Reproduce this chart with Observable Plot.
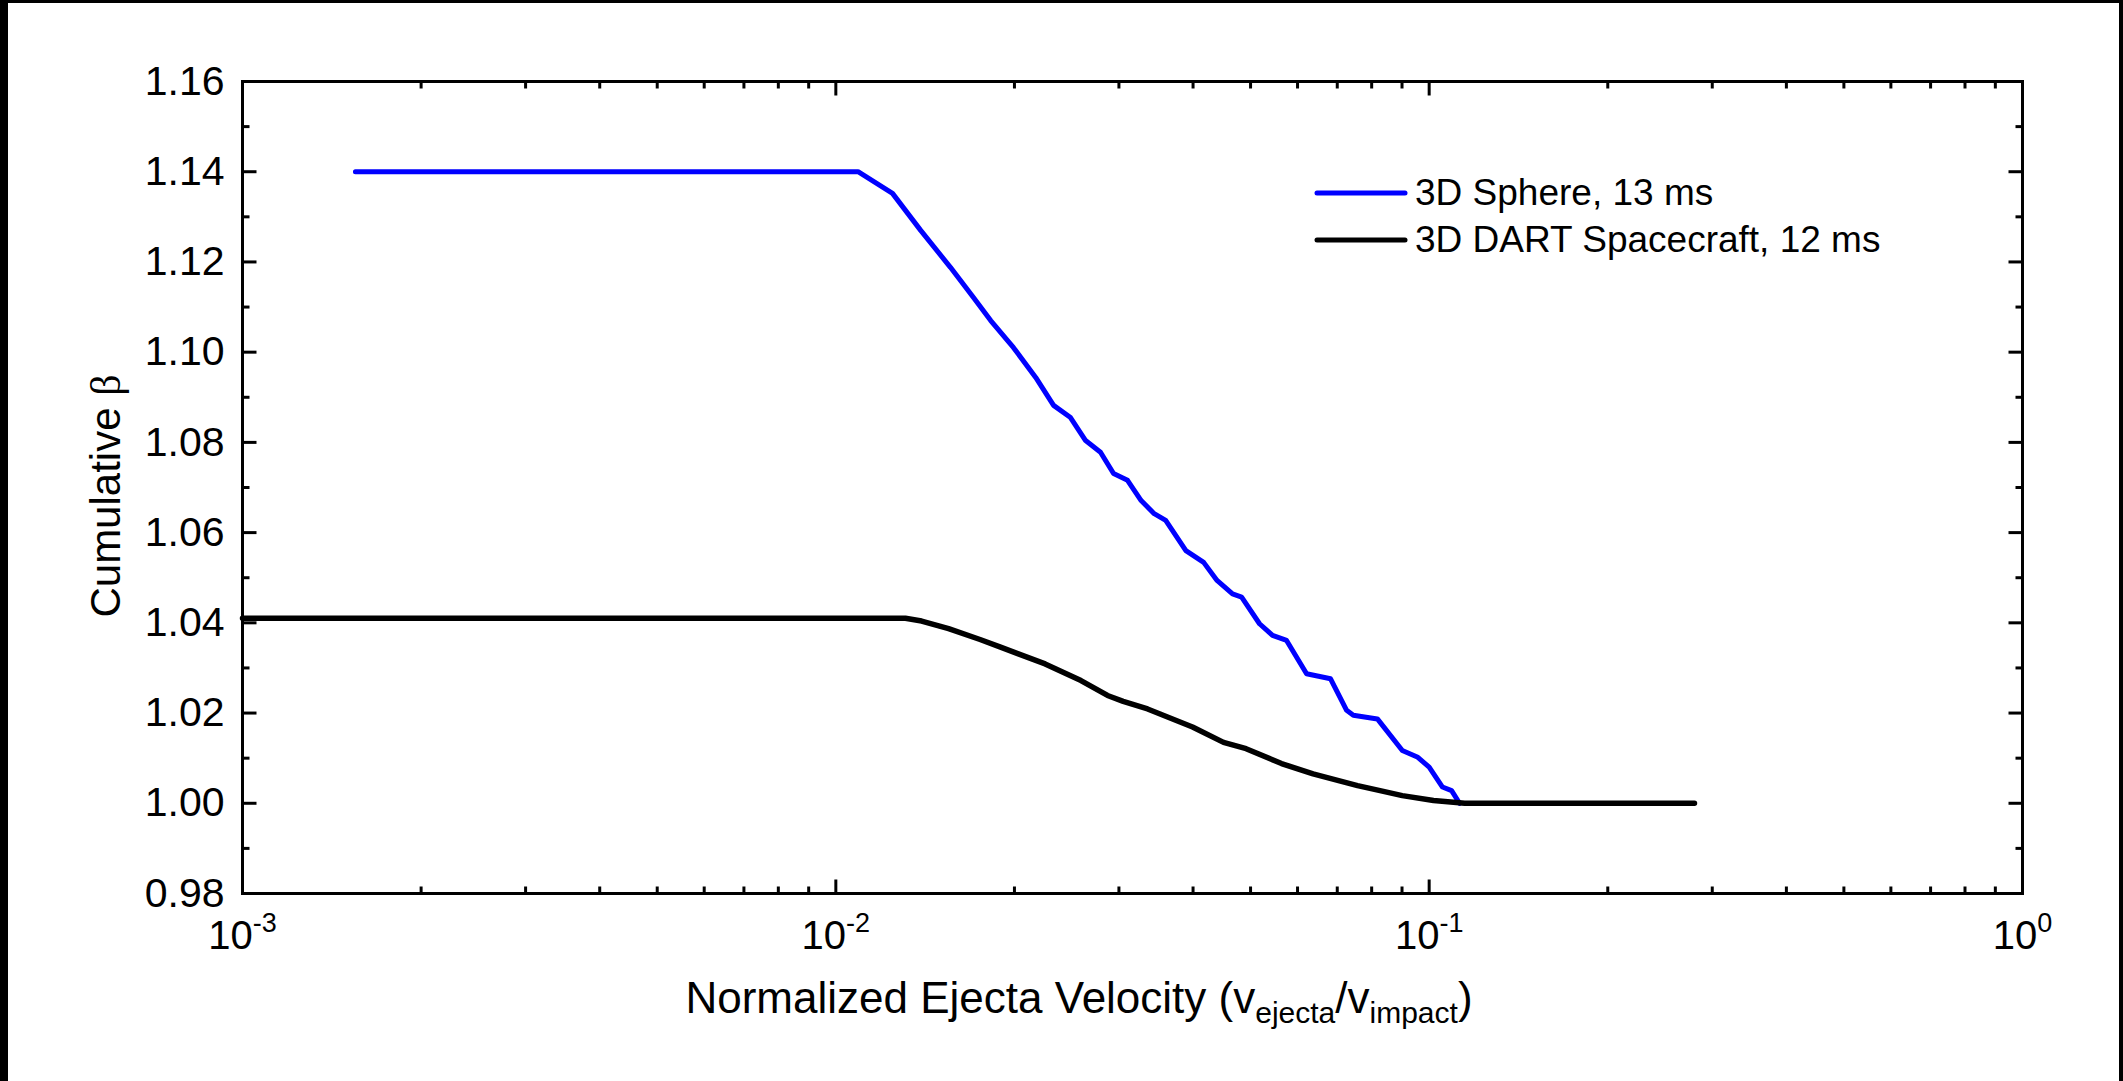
<!DOCTYPE html>
<html><head><meta charset="utf-8">
<script src="https://cdn.jsdelivr.net/npm/d3@7"></script>
<script src="https://cdn.jsdelivr.net/npm/@observablehq/plot@0.6"></script>
<style>
html,body{margin:0;padding:0;background:#000;width:2123px;height:1081px;overflow:hidden}
#chart{position:absolute;left:8px;top:3px;width:2111px;height:1078px;background:#fff}
</style></head><body><div id="chart"></div>
<script>
// ---- data ----
const sphereX = [0.00155, 0.0109, 0.01246, 0.0139, 0.0156, 0.01706, 0.01824, 0.01993, 0.02172, 0.02328,
  0.02486, 0.02636, 0.02793, 0.02938, 0.03102, 0.0327, 0.0344, 0.03597, 0.0389, 0.04168,
  0.0439, 0.04662, 0.0483, 0.05177, 0.05445, 0.0575, 0.06214, 0.06821, 0.07259, 0.0745,
  0.0818, 0.0901, 0.0957, 0.1, 0.1053, 0.1091, 0.1125];
const sphereY = [1.14, 1.14, 1.1352, 1.127, 1.1188, 1.1121, 1.107, 1.101, 1.0944, 1.0882,
  1.0855, 1.0804, 1.0778, 1.0731, 1.0716, 1.0671, 1.0642, 1.0627, 1.056, 1.0534,
  1.0494, 1.0464, 1.0457, 1.0398, 1.0372, 1.0361, 1.0287, 1.0276, 1.0206, 1.0195,
  1.0187, 1.0117, 1.0102, 1.008, 1.0036, 1.0028, 1.0];
const dartX = [0.001, 0.0131, 0.01395, 0.01549, 0.0175, 0.01895, 0.02253, 0.02589, 0.0287, 0.0305,
  0.03353, 0.03992, 0.04502, 0.04914, 0.05638, 0.06373, 0.07573, 0.08265, 0.0901, 0.1017,
  0.1148, 0.28];
const dartY = [1.041, 1.041, 1.0404, 1.0387, 1.0363, 1.0346, 1.0309, 1.0272, 1.0239, 1.0226,
  1.0209, 1.0169, 1.0135, 1.0121, 1.0088, 1.0065, 1.0039, 1.0028, 1.0017, 1.0006,
  1.0, 1.0];
const seriesNames = ["3D Sphere, 13 ms", "3D DART Spacecraft, 12 ms"];
const seriesColors = ["#0000ff", "#000000"];
const xMajorTicks = [0.001, 0.01, 0.1, 1];
const xTickLabels = ["10^-3", "10^-2", "10^-1", "10^0"];
const xMinorTicks = [0.002, 0.003, 0.004, 0.005, 0.006, 0.007, 0.008, 0.009,
  0.02, 0.03, 0.04, 0.05, 0.06, 0.07, 0.08, 0.09,
  0.2, 0.3, 0.4, 0.5, 0.6, 0.7, 0.8, 0.9];
const yMajorTicks = [0.98, 1.00, 1.02, 1.04, 1.06, 1.08, 1.10, 1.12, 1.14, 1.16];
const yMinorTicks = [0.99, 1.01, 1.03, 1.05, 1.07, 1.09, 1.11, 1.13, 1.15];
const xTitle = ["Normalized Ejecta Velocity (v", "ejecta", "/v", "impact", ")"];
const yTitle = ["Cumulative ", "β"];

// ---- build ----
const W = 2111, H = 1078;
const sphere = sphereX.map((x, i) => ({x, y: sphereY[i]}));
const dart = dartX.map((x, i) => ({x, y: dartY[i]}));
const tickShape = {draw(ctx, l) { ctx.moveTo(0, 0); ctx.lineTo(0, -l); }};
const tk = {stroke: "black", strokeWidth: 3, strokeLinecap: "butt", anchor: "start", shape: tickShape};

const svg = Plot.plot({
  width: W, height: H,
  marginLeft: 234, marginRight: W - 2014, marginTop: 78, marginBottom: H - 890,
  x: {type: "log", domain: [1e-3, 1]},
  y: {domain: [0.98, 1.16]},
  style: {background: "white", color: "black", fontFamily: "'Liberation Sans', Arial, sans-serif"},
  marks: [
    Plot.axisX(xMajorTicks, {anchor: "bottom", tickSize: 0, tickPadding: 27, fontSize: 40,
      tickFormat: d => xTickLabels[xMajorTicks.indexOf(d)], label: null}),
    Plot.axisY(yMajorTicks, {anchor: "left", tickSize: 0, tickPadding: 18, fontSize: 41,
      tickFormat: d3.format(".2f"), label: null}),
    Plot.line(sphere, {x: "x", y: "y", stroke: seriesColors[0], strokeWidth: 5, strokeLinecap: "round", strokeLinejoin: "round"}),
    Plot.line(dart, {x: "x", y: "y", stroke: seriesColors[1], strokeWidth: 5.5, strokeLinecap: "round", strokeLinejoin: "round"}),
    // major ticks (inward, all four sides)
    Plot.vector(xMajorTicks, {x: d => d, frameAnchor: "bottom", rotate: 0, length: 14, ...tk}),
    Plot.vector(xMajorTicks, {x: d => d, frameAnchor: "top", rotate: 180, length: 14, ...tk}),
    Plot.vector(yMajorTicks, {y: d => d, frameAnchor: "left", rotate: 90, length: 14, ...tk}),
    Plot.vector(yMajorTicks, {y: d => d, frameAnchor: "right", rotate: -90, length: 14, ...tk}),
    // minor ticks
    Plot.vector(xMinorTicks, {x: d => d, frameAnchor: "bottom", rotate: 0, length: 7, ...tk}),
    Plot.vector(xMinorTicks, {x: d => d, frameAnchor: "top", rotate: 180, length: 7, ...tk}),
    Plot.vector(yMinorTicks, {y: d => d, frameAnchor: "left", rotate: 90, length: 7, ...tk}),
    Plot.vector(yMinorTicks, {y: d => d, frameAnchor: "right", rotate: -90, length: 7, ...tk}),
    Plot.frame({stroke: "black", strokeWidth: 3})
  ]
});

const s = d3.select(svg);
// superscript exponents on x tick labels
s.selectAll('g[aria-label="x-axis tick label"] text').each(function () {
  const [base, exp] = this.textContent.split("^");
  const t = d3.select(this);
  t.text(null);
  t.append("tspan").text(base);
  t.append("tspan").attr("font-size", 27).attr("dy", -17).text(exp);
});

// x title with subscripts
const xt = s.append("text").attr("x", 1071).attr("y", 1010).attr("text-anchor", "middle")
  .attr("font-size", 44).attr("fill", "black");
xt.append("tspan").text(xTitle[0]);
xt.append("tspan").attr("font-size", 30).attr("dy", 10).text(xTitle[1]);
xt.append("tspan").attr("dy", -10).text(xTitle[2]);
xt.append("tspan").attr("font-size", 30).attr("dy", 10).text(xTitle[3]);
xt.append("tspan").attr("dy", -10).text(xTitle[4]);

// y title
const yt = s.append("text").attr("transform", "translate(112,493) rotate(-90)")
  .attr("text-anchor", "middle").attr("font-size", 42).attr("fill", "black");
yt.append("tspan").text(yTitle[0]);
yt.append("tspan").attr("font-family", "'Liberation Serif', serif").text(yTitle[1]);

// legend
const lg = s.append("g").attr("aria-label", "legend");
seriesNames.forEach((name, i) => {
  const y = 190 + i * 47;
  lg.append("line").attr("x1", 1309).attr("x2", 1397).attr("y1", y).attr("y2", y)
    .attr("stroke", seriesColors[i]).attr("stroke-width", 5).attr("stroke-linecap", "round");
  lg.append("text").attr("x", 1407).attr("y", y + 12).attr("text-anchor", "start")
    .attr("font-size", 37).attr("fill", "black").text(name);
});

document.getElementById("chart").appendChild(svg);
</script></body></html>
